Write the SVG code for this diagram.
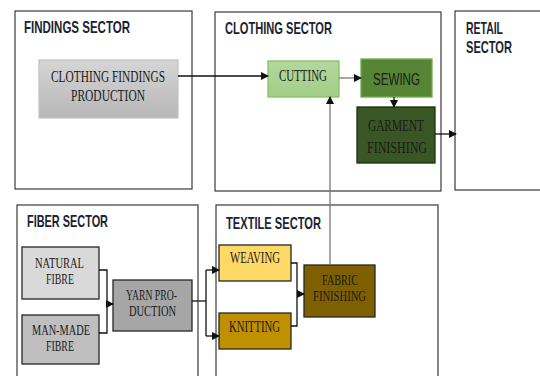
<svg xmlns="http://www.w3.org/2000/svg" width="540" height="376" viewBox="0 0 540 376">
<style>
.sector{fill:#fff;stroke:#3a3a3a;stroke-width:1.2}
.title{font-family:"Liberation Sans",Arial,sans-serif;font-weight:bold;font-size:17px;fill:#1a2333}
.lbl{font-family:"Liberation Serif","Times New Roman",serif;font-size:17px;fill:#1a1a1a}
.lbl2{font-family:"Liberation Serif","Times New Roman",serif;font-size:15px;fill:#1a1a1a}
.lbls{font-family:"Liberation Sans",Arial,sans-serif;font-size:16px;fill:#1a1a1a}
.node{stroke:#262626;stroke-width:1.3}
.conn{fill:none;stroke:#111;stroke-width:1.3}
.conng{fill:none;stroke:#777;stroke-width:1.3}
</style>
<defs>
<marker id="ah" markerWidth="8" markerHeight="8" refX="7" refY="4" orient="auto" markerUnits="userSpaceOnUse">
<path d="M0,0 L8,4 L0,8 Z" fill="#111"/>
</marker>
<linearGradient id="gGray" x1="0" y1="0" x2="0" y2="1">
<stop offset="0" stop-color="#d6d6d6"/>
<stop offset="1" stop-color="#b6b6b6"/>
</linearGradient>
<linearGradient id="gGreen" x1="0" y1="0" x2="0" y2="1">
<stop offset="0" stop-color="#b4d89c"/>
<stop offset="1" stop-color="#a3cd88"/>
</linearGradient>
</defs>

<g id="findings-sector">
<rect class="sector" x="15" y="11" width="177" height="178"/>
<text class="title" x="24" y="33" textLength="106" lengthAdjust="spacingAndGlyphs">FINDINGS SECTOR</text>
</g>
<g id="clothing-sector">
<rect class="sector" x="215" y="12" width="226" height="179"/>
<text class="title" x="225" y="34" textLength="107" lengthAdjust="spacingAndGlyphs">CLOTHING SECTOR</text>
</g>
<g id="retail-sector">
<rect class="sector" x="455" y="11" width="95" height="179"/>
<text class="title" x="466" y="34" textLength="37" lengthAdjust="spacingAndGlyphs">RETAIL</text>
<text class="title" x="466" y="53" textLength="46" lengthAdjust="spacingAndGlyphs">SECTOR</text>
</g>
<g id="fiber-sector">
<rect class="sector" x="17" y="205" width="181" height="180"/>
<text class="title" x="27" y="227" textLength="81" lengthAdjust="spacingAndGlyphs">FIBER SECTOR</text>
</g>
<g id="textile-sector">
<rect class="sector" x="216" y="205" width="222" height="180"/>
<text class="title" x="226" y="229" textLength="95" lengthAdjust="spacingAndGlyphs">TEXTILE SECTOR</text>
</g>

<g id="clothing-findings-production">
<rect x="39" y="60" width="139" height="58" fill="url(#gGray)" stroke="#c4c4c4" stroke-width="1.3"/>
<text class="lbl" x="51" y="82" textLength="114" lengthAdjust="spacingAndGlyphs">CLOTHING FINDINGS</text>
<text class="lbl" x="71" y="101" textLength="74" lengthAdjust="spacingAndGlyphs">PRODUCTION</text>
</g>
<g id="cutting">
<rect x="268" y="61" width="71" height="36" fill="url(#gGreen)" stroke="#86c064" stroke-width="1.3"/>
<text class="lbl" x="279" y="81" textLength="48" lengthAdjust="spacingAndGlyphs">CUTTING</text>
</g>
<g id="sewing">
<rect x="361" y="59" width="71" height="38" fill="#558535" stroke="#6fae48" stroke-width="1.3"/>
<text class="lbls" x="373" y="85" textLength="47" lengthAdjust="spacingAndGlyphs">SEWING</text>
</g>
<g id="garment-finishing">
<rect x="357" y="107" width="78" height="56" fill="#385724" stroke="#1d2d12" stroke-width="1.3"/>
<text class="lbl" x="368" y="131" textLength="56" lengthAdjust="spacingAndGlyphs">GARMENT</text>
<text class="lbl" x="367" y="153" textLength="60" lengthAdjust="spacingAndGlyphs">FINISHING</text>
</g>
<g id="natural-fibre">
<rect class="node" x="22" y="247" width="77" height="52" fill="#d9d9d9"/>
<text class="lbl2" x="35" y="268" textLength="49" lengthAdjust="spacingAndGlyphs">NATURAL</text>
<text class="lbl2" x="46" y="284" textLength="28" lengthAdjust="spacingAndGlyphs">FIBRE</text>
</g>
<g id="man-made-fibre">
<rect class="node" x="22" y="315" width="77" height="49" fill="#bfbfbf"/>
<text class="lbl2" x="32" y="335" textLength="58" lengthAdjust="spacingAndGlyphs">MAN-MADE</text>
<text class="lbl2" x="46" y="351" textLength="28" lengthAdjust="spacingAndGlyphs">FIBRE</text>
</g>
<g id="yarn-production">
<rect class="node" x="113" y="280" width="79" height="51" fill="#a6a6a6"/>
<text class="lbl2" x="126" y="300" textLength="51" lengthAdjust="spacingAndGlyphs">YARN PRO-</text>
<text class="lbl2" x="129" y="316" textLength="47" lengthAdjust="spacingAndGlyphs">DUCTION</text>
</g>
<g id="weaving">
<rect class="node" x="219" y="245" width="72" height="36" fill="#ffd966"/>
<text class="lbl" x="230" y="263" textLength="50" lengthAdjust="spacingAndGlyphs">WEAVING</text>
</g>
<g id="knitting">
<rect class="node" x="219" y="313" width="72" height="36" fill="#bf9000"/>
<text class="lbl" x="229" y="332" textLength="51" lengthAdjust="spacingAndGlyphs">KNITTING</text>
</g>
<g id="fabric-finishing">
<rect class="node" x="304" y="265" width="71" height="52" fill="#7f6000"/>
<text class="lbl2" x="322" y="285" textLength="36" lengthAdjust="spacingAndGlyphs">FABRIC</text>
<text class="lbl2" x="313" y="301" textLength="53" lengthAdjust="spacingAndGlyphs">FINISHING</text>
</g>

<g id="connectors">
<path class="conn" d="M178,76 H268" marker-end="url(#ah)"/>
<path class="conng" d="M339,78 H361" marker-end="url(#ah)"/>
<path class="conn" d="M394,97 V107" marker-end="url(#ah)"/>
<path class="conn" d="M435,134 H456" marker-end="url(#ah)"/>
<path class="conng" d="M330,265 V97" marker-end="url(#ah)"/>
<path class="conn" d="M99,270 H107 V333 H99"/>
<path class="conn" d="M107,304 H113" marker-end="url(#ah)"/>
<path class="conn" d="M192,301 H206"/>
<path class="conn" d="M206,270 V336"/>
<path class="conn" d="M206,270 H219" marker-end="url(#ah)"/>
<path class="conn" d="M206,336 H219" marker-end="url(#ah)"/>
<path class="conn" d="M291,263 H297 V326 H291"/>
<path class="conn" d="M297,294 H304" marker-end="url(#ah)"/>
</g>
</svg>
